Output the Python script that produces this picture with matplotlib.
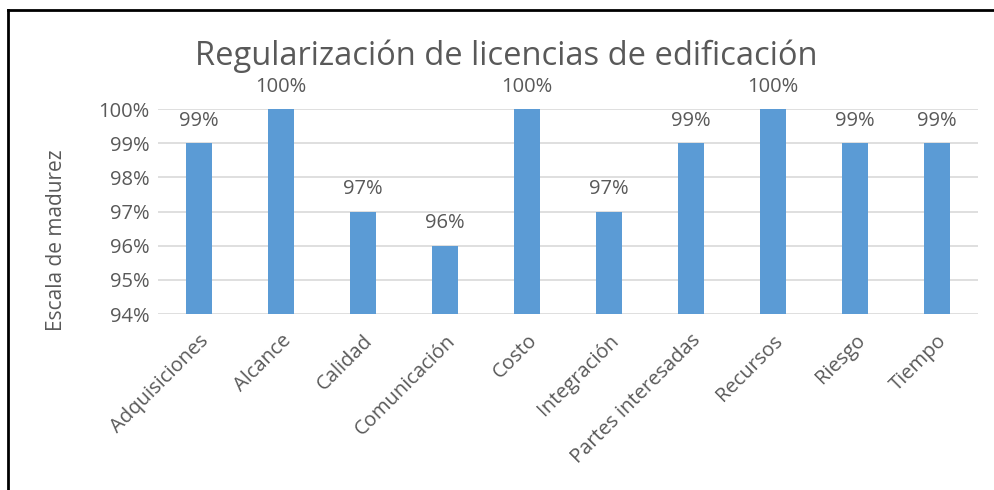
import matplotlib.pyplot as plt
from matplotlib.lines import Line2D

categorias = ['Adquisiciones', 'Alcance', 'Calidad', 'Comunicación', 'Costo',
              'Integración', 'Partes interesadas', 'Recursos', 'Riesgo', 'Tiempo']
valores = [99, 100, 97, 96, 100, 97, 99, 100, 99, 99]
ticks_y = [94, 95, 96, 97, 98, 99, 100]

gris = '#595959'
plt.rcParams['font.family'] = ['Open Sans', 'DejaVu Sans']

fig = plt.figure(figsize=(9.94, 4.9), dpi=100)
ax = fig.add_axes([158 / 994, 1 - 314 / 490, 820 / 994, 205 / 490])

x = range(len(categorias))
ax.bar(x, [v - 94 for v in valores], bottom=94, width=0.31, color='#5B9BD5', zorder=3)
for i, v in zip(x, valores):
    ax.text(i, v + 0.36, f'{v}%', ha='center', va='bottom', fontsize=14.5, color=gris)

ax.set_xlim(-0.5, len(categorias) - 0.5)
ax.set_ylim(94, 100)
ax.set_yticks(ticks_y)
ax.set_yticklabels([f'{t}%' for t in ticks_y], fontsize=14.5, color=gris)
ax.set_xticks(list(x))
ax.set_xticklabels(categorias, rotation=45, ha='right', rotation_mode='anchor',
                   fontsize=14.5, color=gris)
ax.tick_params(length=0, pad=6)
ax.tick_params(axis='x', pad=12)
ax.yaxis.grid(True, color='#D9D9D9', linewidth=1.2, zorder=0)
for s in ax.spines.values():
    s.set_visible(False)

ax.set_ylabel('Escala de madurez', fontsize=15, color=gris)
ax.yaxis.set_label_coords(-0.111, 0.36)
fig.text(0.5 * (196 + 817) / 994, 1 - 56 / 490, 'Regularización de licencias de edificación',
         ha='center', va='center', fontsize=23.5, color=gris)

# marco exterior
fig.add_artist(Line2D([8 / 994, 8 / 994], [0, 1 - 10 / 490], transform=fig.transFigure,
                      color='black', linewidth=2))
fig.add_artist(Line2D([8 / 994, 1], [1 - 10 / 490, 1 - 10 / 490], transform=fig.transFigure,
                      color='black', linewidth=2))

fig.savefig('out.png', dpi=100, facecolor='white')
